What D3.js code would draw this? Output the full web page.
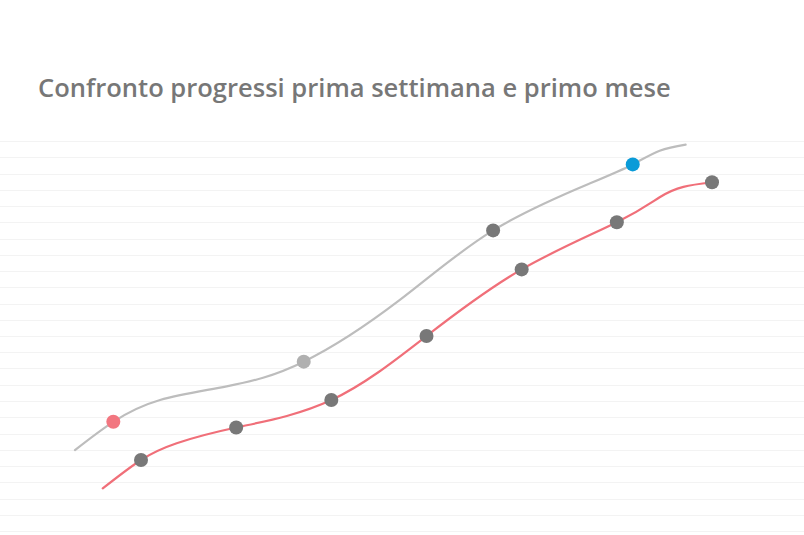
<!DOCTYPE html>
<html>
<head>
<meta charset="utf-8">
<script src="https://cdn.jsdelivr.net/npm/d3@7"></script>
<style>
  html, body { margin: 0; padding: 0; background: #fff; }
  svg { display: block; }
</style>
</head>
<body>
<svg id="chart" width="804" height="535"></svg>
<script>
// Progress (percentage scale) against elapsed weeks, for the two periods.
const titleText = "Confronto progressi prima settimana e primo mese";

// First-month curve (grey line)
const monthWeeks  = [-0.694, -0.291, 0.20, 0.90, 1.71, 2.72, 3.70, 4.72, 5.167, 5.45, 5.723];
const monthValues = [24.9, 33.6, 40.3, 44.5, 52.1, 71.1, 92.5, 107.0, 112.8, 117.0, 118.9];
// marker colour per point (null = no marker)
const monthMarkers = [null, "#f27680", null, null, "#b0b0b0", null, "#787878", null, "#0a9bd8", null, null];

// First-week curve (red line)
const weekDays   = [-0.402, 0, 0.375, 1, 2, 3, 4, 5, 5.45, 5.70, 6];
const weekValues = [13.1, 21.85, 27.0, 31.85, 40.3, 60.0, 80.5, 95.0, 102.7, 105.9, 107.3];
const weekMarkers = [null, "#787878", null, "#787878", "#787878", "#787878", "#787878", "#787878", null, null, "#787878"];

// Horizontal guide values
const gridTicks = d3.range(0, 121, 5);

const svg = d3.select("#chart");
const W = 804;

const x = d3.scaleLinear().domain([0, 6]).range([141, 712]);
const y = d3.scaleLinear().domain([0, 120]).range([531, 141]);

// grid
svg.append("g")
  .selectAll("line")
  .data(gridTicks)
  .join("line")
  .attr("x1", 0).attr("x2", W)
  .attr("y1", d => Math.round(y(d)) + 0.5)
  .attr("y2", d => Math.round(y(d)) + 0.5)
  .attr("stroke", "#f3f3f3")
  .attr("stroke-width", 1);

// title
const title = svg.append("text")
  .attr("x", 38).attr("y", 97)
  .attr("font-family", "'Open Sans', Lato, sans-serif")
  .attr("font-weight", 600)
  .attr("font-size", 24)
  .attr("fill", "#777777")
  .text(titleText);
const tw = title.node().getComputedTextLength();
title.attr("font-size", 24 * 633 / tw);

const line = d3.line()
  .x(d => x(d[0]))
  .y(d => y(d[1]))
  .curve(d3.curveNatural);

function drawSeries(xs, vs, markers, color) {
  const pts = xs.map((d, i) => [d, vs[i], markers[i]]);
  svg.append("path")
    .datum(pts)
    .attr("d", line)
    .attr("fill", "none")
    .attr("stroke", color)
    .attr("stroke-width", 2.2)
    .attr("stroke-linecap", "round");
  svg.append("g")
    .selectAll("circle")
    .data(pts.filter(p => p[2]))
    .join("circle")
    .attr("cx", p => x(p[0]))
    .attr("cy", p => y(p[1]))
    .attr("r", 7)
    .attr("fill", p => p[2]);
}

drawSeries(monthWeeks, monthValues, monthMarkers, "#bdbdbd");
drawSeries(weekDays, weekValues, weekMarkers, "#f06f79");
</script>
</body>
</html>
